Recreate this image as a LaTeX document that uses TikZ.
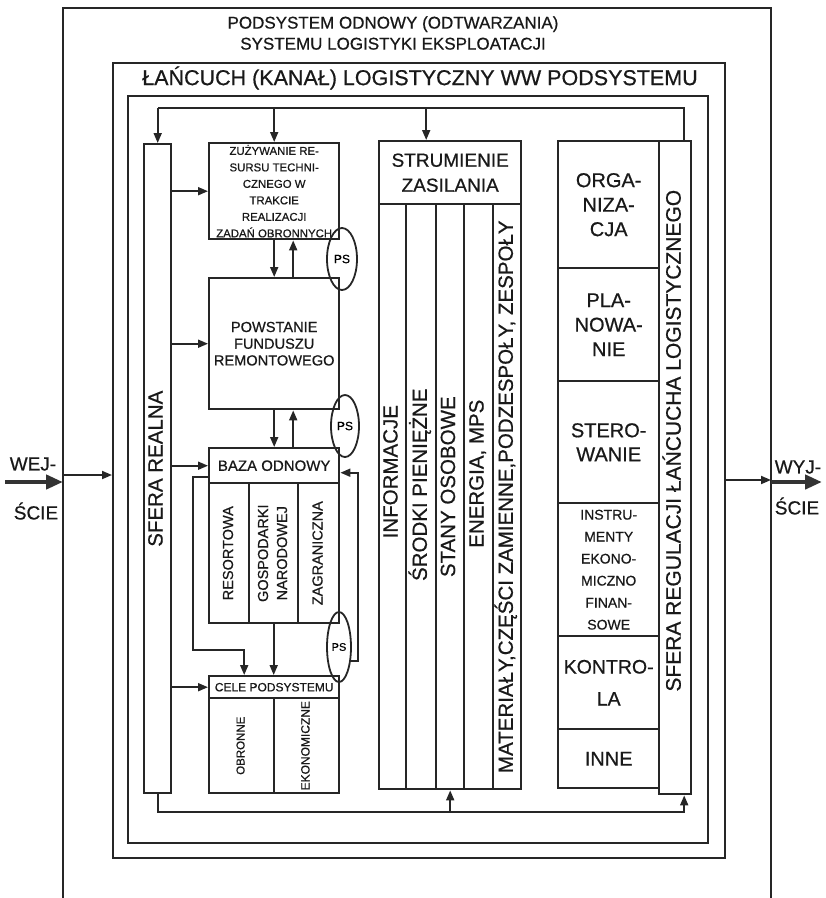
\documentclass[tikz,border=0pt]{standalone}
\usepackage{fontspec}
\setmainfont{Liberation Sans}[FakeBold=0.6]
\usetikzlibrary{shapes.geometric, arrows.meta, positioning}

\newcommand{\pion}[2][0pt]{\rotatebox{90}{\hspace*{#1}\begin{tabular}{@{}c@{}}#2\end{tabular}}}
\newcommand{\rozm}[2]{\fontsize{#1}{#2}\selectfont}

\begin{document}
\begin{tikzpicture}[x=1pt, y=-1pt,
    wh/.style 2 args={minimum width=#1pt, minimum height=#2pt},
    ramka/.style={rectangle, draw=black!85, line width=2.4pt, inner sep=0pt, anchor=north west},
    blok/.style={rectangle, draw=black!85, line width=2.4pt, align=center, inner sep=0pt, anchor=north west, text=black!90},
    ps/.style={ellipse, draw=black!85, line width=1.8pt, inner sep=0pt, font=\rozm{12}{14}},
    linia/.style={line width=1.8pt, draw=black!85},
    strz/.style={linia, -{Triangle[length=10pt, width=8pt]}},
    gruba/.style={line width=4.5pt, draw=black!80, -{Triangle[length=17pt, width=14pt]}},
    etyk/.style={font=\rozm{19}{22}, text=black!90}]

    \useasboundingbox (0,0) rectangle (826,898);
    \fill[white] (0,0) rectangle (826,898);

    % ramy
    \draw[linia, line width=2.4pt] (63,898) |- (771,8) -- (771,898);
    \node[ramka, wh={612}{795}] (ram2) at (112,62) {};
    \node[ramka, wh={580}{747}] (ram3) at (127,95) {};
    \node[font=\rozm{17}{21}, align=center, text=black!90] (tyt) at (393,33) {PODSYSTEM ODNOWY (ODTWARZANIA)\\SYSTEMU LOGISTYKI EKSPLOATACJI};
    \node[font=\rozm{21.5}{24}, text=black!90] (lan) at (420,78) {ŁAŃCUCH (KANAŁ) LOGISTYCZNY WW PODSYSTEMU};

    % sfera realna
    \node[blok, wh={27}{649}, font=\rozm{20.5}{24}] (sreal) at (143,143) {\pion{SFERA REALNA}};
    \node[blok, wh={130}{96}, font=\rozm{11.4}{16.5}] (zuz) at (208,142) {ZUŻYWANIE RE-\\SURSU TECHNI-\\CZNEGO W\\TRAKCIE\\REALIZACJI\\ZADAŃ OBRONNYCH};
    \node[blok, wh={130}{131}, font=\rozm{14.6}{16.7}] (pow) at (208,277) {POWSTANIE\\FUNDUSZU\\REMONTOWEGO};
    \node[blok, wh={130}{35}, font=\rozm{15}{18}] (baza) at (208,447) {BAZA ODNOWY};
    \node[blok, wh={40}{140}, font=\rozm{14.5}{19}] (res) at (208,482) {\pion{RESORTOWA}};
    \node[blok, wh={49}{140}, font=\rozm{14.5}{19}] (gosp) at (248,482) {\pion{GOSPODARKI\\NARODOWEJ}};
    \node[blok, wh={41}{140}, font=\rozm{14.5}{19}] (zagr) at (297,482) {\pion{ZAGRANICZNA}};
    \node[blok, wh={130}{22}, font=\rozm{12}{14}] (cele) at (208,675) {CELE PODSYSTEMU};
    \node[blok, wh={65}{95}, font=\rozm{11.5}{14}] (obr) at (208,697) {\pion{OBRONNE}};
    \node[blok, wh={65}{95}, font=\rozm{12}{14}] (ekon) at (273,697) {\pion{EKONOMICZNE}};

    \node[ps, wh={30}{62}] (ps1) at (342,259) {PS};
    \node[ps, wh={28}{62}] (ps2) at (345,426) {PS};
    \node[ps, wh={24}{70}, font=\rozm{11}{13}] (ps3) at (339,647) {PS};

    % strumienie zasilania
    \node[blok, wh={142}{63}, font=\rozm{19}{25}] (strum) at (378,140) {STRUMIENIE\\ZASILANIA};
    \node[blok, wh={27}{585}, font=\rozm{20.5}{24}] (s1) at (378,203) {\pion[50pt]{INFORMACJE}};
    \node[blok, wh={30}{585}, font=\rozm{20.5}{24}] (s2) at (405,203) {\pion[24pt]{ŚRODKI PIENIĘŻNE}};
    \node[blok, wh={28}{585}, font=\rozm{20.5}{24}] (s3) at (435,203) {\pion[20pt]{STANY OSOBOWE}};
    \node[blok, wh={29}{585}, font=\rozm{20.5}{24}] (s4) at (463,203) {\pion[46pt]{ENERGIA, MPS}};
    \node[blok, wh={28}{585}, font=\rozm{20.5}{24}] (s5) at (492,203) {\pion{MATERIAŁY,CZĘŚCI ZAMIENNE,PODZESPOŁY, ZESPOŁY}};

    % sfera regulacji
    \node[blok, wh={101}{127}, font=\rozm{20}{24.5}] (org) at (557,140) {ORGA-\\NIZA-\\CJA};
    \node[blok, wh={101}{113}, font=\rozm{20}{24.5}] (plan) at (557,267) {PLA-\\NOWA-\\NIE};
    \node[blok, wh={101}{122}, font=\rozm{20}{24}] (ster) at (557,380) {STERO-\\WANIE};
    \node[blok, wh={101}{133}, font=\rozm{14}{22}] (instr) at (557,502) {INSTRU-\\MENTY\\EKONO-\\MICZNO\\FINAN-\\SOWE};
    \node[blok, wh={101}{93}, font=\rozm{19.5}{32}] (kontr) at (557,635) {KONTRO-\\LA};
    \node[blok, wh={101}{59}, font=\rozm{20}{24}] (inne) at (557,728) {INNE};
    \node[blok, wh={32}{653}, font=\rozm{21}{24}] (sreg) at (658,140) {\pion[54pt]{SFERA REGULACJI ŁAŃCUCHA LOGISTYCZNEGO}};

    % sprzezenia gora i dol
    \coordinate (gora) at (0,108);
    \coordinate (dol) at (0,812);
    \coordinate (sregg) at ([xshift=9pt]sreg.north);
    \coordinate (sregd) at ([xshift=9pt]sreg.south);
    \coordinate (strumg) at ([xshift=-24pt]strum.north);
    \draw[linia] (sregg) |- (sreal.north |- gora);
    \draw[strz] (sreal.north |- gora) -- (sreal.north);
    \draw[strz] (zuz.north |- gora) -- (zuz.north);
    \draw[strz] (strumg |- gora) -- (strumg);
    \draw[strz] (sreal.south) |- (sregd |- dol) -- (sregd);
    \draw[strz] (s3.south |- dol) -- (s3.south);

    % sfera realna -> bloki
    \draw[strz] (sreal.east |- zuz.west) -- (zuz.west);
    \draw[strz] (sreal.east |- pow.west) -- (pow.west);
    \draw[strz] (sreal.east |- baza.west) -- (baza.west);
    \draw[strz] (sreal.east |- cele.west) -- (cele.west);
    \draw[strz] (zuz.south) -- (pow.north);
    \draw[strz] ([xshift=19pt]pow.north) -- ([xshift=19pt]zuz.south);
    \draw[strz] (pow.south) -- (baza.north);
    \draw[strz] ([xshift=19pt]baza.north) -- ([xshift=19pt]pow.south);
    \draw[strz] (gosp.south) -- (gosp.south |- cele.north);

    % petle bazy odnowy
    \coordinate (lp) at (193,650);
    \coordinate (cl) at ([xshift=-30pt]cele.north);
    \draw[strz] ([yshift=-11pt]baza.west) -| (lp) -| (cl);
    \draw[strz] (ps3.-50) -- ++(7,0) |- ([yshift=-7pt]baza.east);

    % wejscie i wyjscie
    \coordinate (wejp) at (5,482);
    \coordinate (wejg) at (63,482);
    \coordinate (wejk) at (63,475);
    \draw[gruba] (wejp) -- (wejg);
    \draw[strz] (wejk) -- (ram2.west |- wejk);
    \node[etyk] (wejt) at (33,464) {WEJ-};
    \node[etyk] (wejs) at (36,511) {ŚCIE};
    \coordinate (wyjk) at (771,480);
    \coordinate (wyjg) at (771,482);
    \coordinate (wyjp) at (822,482);
    \draw[strz] (ram2.east |- wyjk) -- (wyjk);
    \draw[gruba] (wyjg) -- (wyjp);
    \node[etyk] (wyjt) at (798,467) {WYJ-};
    \node[etyk] (wyjs) at (797,506) {ŚCIE};
\end{tikzpicture}
\end{document}
